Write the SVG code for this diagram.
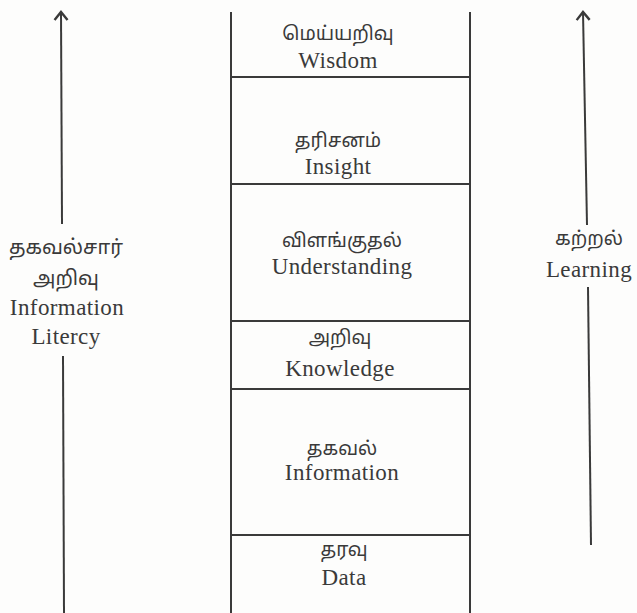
<svg xmlns="http://www.w3.org/2000/svg" width="637" height="613" viewBox="0 0 637 613">
<style>
.ln{stroke:#3a3a3a;stroke-width:2;fill:none}
.en{font-family:"Liberation Serif","Times New Roman",serif;font-size:23px;letter-spacing:0.4px;fill:#3a3a3a;text-anchor:middle}
.ta{font-family:"Noto Sans Tamil","Noto Serif Tamil","Lohit Tamil","Noto Sans","DejaVu Sans",sans-serif;font-size:19px;fill:#3a3a3a;text-anchor:middle}
</style>
<defs>
<marker id="arr" markerWidth="16" markerHeight="16" refX="0" refY="0" orient="auto" markerUnits="userSpaceOnUse" viewBox="-10 -8 12 16">
<polyline points="-8,-6.5 0,0 -8,6.5" fill="none" stroke="#3a3a3a" stroke-width="2.4" stroke-linejoin="miter"/>
</marker>
</defs>
<rect width="637" height="613" fill="#fdfdfc"/>
<g id="connectors">
<line class="ln" x1="62" y1="224" x2="61" y2="12" marker-end="url(#arr)"/>
<line class="ln" x1="63" y1="356" x2="64" y2="613"/>
<line class="ln" x1="587" y1="225" x2="583" y2="12" marker-end="url(#arr)"/>
<line class="ln" x1="588" y1="287" x2="591" y2="545"/>
</g>
<g id="ladder">
<line class="ln" x1="231" y1="12" x2="231" y2="613"/>
<line class="ln" x1="470" y1="12" x2="470" y2="613"/>
<line class="ln" x1="231" y1="77" x2="470" y2="77"/>
<line class="ln" x1="231" y1="184" x2="470" y2="184"/>
<line class="ln" x1="231" y1="321" x2="470" y2="321"/>
<line class="ln" x1="231" y1="389" x2="470" y2="389"/>
<line class="ln" x1="231" y1="535" x2="470" y2="535"/>
</g>
<g id="wisdom"><text class="ta" x="338" y="40">மெய்யறிவு</text><text class="en" x="338" y="68">Wisdom</text></g>
<g id="insight"><text class="ta" x="338" y="147">தரிசனம்</text><text class="en" x="338" y="174">Insight</text></g>
<g id="understanding"><text class="ta" x="342" y="247">விளங்குதல்</text><text class="en" x="342" y="274">Understanding</text></g>
<g id="knowledge"><text class="ta" x="340" y="344">அறிவு</text><text class="en" x="340" y="376">Knowledge</text></g>
<g id="information"><text class="ta" x="342" y="455">தகவல்</text><text class="en" x="342" y="480">Information</text></g>
<g id="data"><text class="ta" x="344" y="556">தரவு</text><text class="en" x="344" y="585">Data</text></g>
<g id="info-literacy">
<text class="ta" x="66" y="254" style="font-size:20px">தகவல்சார்</text>
<text class="ta" x="66" y="285" style="font-size:20px">அறிவு</text>
<text class="en" x="67" y="315">Information</text>
<text class="en" x="66" y="344">Litercy</text>
</g>
<g id="learning">
<text class="ta" x="589" y="245">கற்றல்</text>
<text class="en" x="589" y="277">Learning</text>
</g>
</svg>
